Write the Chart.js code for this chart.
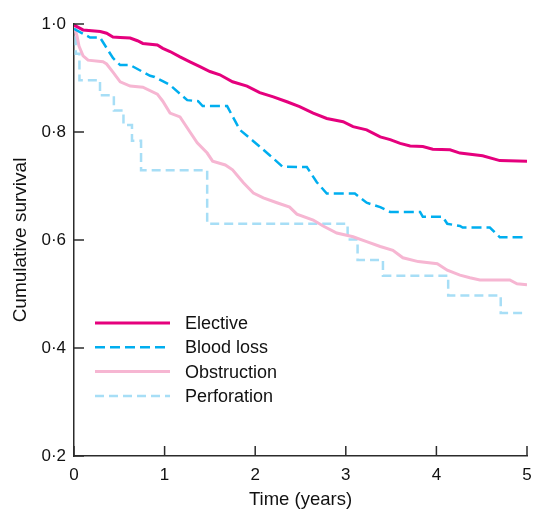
<!DOCTYPE html>
<html>
<head>
<meta charset="utf-8">
<script src="https://cdn.jsdelivr.net/npm/chart.js@4/dist/chart.umd.min.js"></script>
<style>
  html, body { margin: 0; padding: 0; background: #fff; }
  #wrap { width: 536px; height: 511px; }
</style>
</head>
<body>
<div id="wrap"><canvas id="km"></canvas></div>
<script>
// survival curves (time in years, cumulative survival)
const electiveT = [0, 0.10, 0.29, 0.36, 0.43, 0.51, 0.62, 0.70, 0.76, 0.92, 0.98, 1.06, 1.17, 1.28, 1.39, 1.50, 1.61, 1.75, 1.91, 2.05, 2.20, 2.35, 2.49, 2.64, 2.79, 2.97, 3.08, 3.23, 3.38, 3.49, 3.60, 3.71, 3.85, 3.96, 4.15, 4.26, 4.51, 4.70, 5.0];
const electiveS = [0.998, 0.989, 0.986, 0.983, 0.976, 0.975, 0.974, 0.969, 0.964, 0.961, 0.955, 0.949, 0.939, 0.930, 0.921, 0.912, 0.906, 0.893, 0.885, 0.873, 0.865, 0.856, 0.847, 0.835, 0.825, 0.819, 0.810, 0.804, 0.791, 0.786, 0.779, 0.774, 0.773, 0.768, 0.767, 0.761, 0.756, 0.747, 0.746];

const bloodT = [0, 0.177, 0.287, 0.43, 0.51, 0.62, 0.84, 0.89, 1.06, 1.25, 1.37, 1.42, 1.69, 1.83, 1.98, 2.05, 2.16, 2.30, 2.57, 2.68, 2.79, 3.10, 3.23, 3.38, 3.49, 3.82, 3.85, 4.07, 4.12, 4.26, 4.29, 4.59, 4.70, 5.0];
const bloodS = [0.991, 0.975, 0.975, 0.937, 0.924, 0.924, 0.904, 0.902, 0.887, 0.859, 0.857, 0.848, 0.848, 0.804, 0.783, 0.773, 0.757, 0.736, 0.735, 0.707, 0.686, 0.686, 0.669, 0.661, 0.652, 0.652, 0.643, 0.643, 0.630, 0.626, 0.623, 0.623, 0.605, 0.605];

const obstructionT = [0, 0.033, 0.055, 0.10, 0.155, 0.32, 0.36, 0.43, 0.51, 0.62, 0.76, 0.92, 0.98, 1.06, 1.17, 1.28, 1.36, 1.47, 1.53, 1.67, 1.75, 1.87, 1.98, 2.09, 2.24, 2.38, 2.46, 2.64, 2.75, 2.90, 3.08, 3.23, 3.38, 3.52, 3.63, 3.80, 4.01, 4.12, 4.26, 4.37, 4.48, 4.81, 4.89, 5.0];
const obstructionS = [0.998, 0.978, 0.959, 0.941, 0.933, 0.930, 0.926, 0.911, 0.893, 0.885, 0.883, 0.870, 0.857, 0.835, 0.828, 0.800, 0.780, 0.761, 0.746, 0.739, 0.730, 0.706, 0.687, 0.678, 0.669, 0.661, 0.648, 0.637, 0.626, 0.613, 0.606, 0.597, 0.588, 0.581, 0.567, 0.560, 0.556, 0.544, 0.535, 0.530, 0.526, 0.526, 0.519, 0.517];

const perforationT = [0, 0.02, 0.06, 0.287, 0.44, 0.546, 0.64, 0.74, 1.47, 3.02, 3.13, 3.41, 4.13, 4.71, 5.0];
const perforationS = [1.0, 0.945, 0.896, 0.868, 0.840, 0.813, 0.784, 0.729, 0.630, 0.601, 0.563, 0.534, 0.497, 0.465, 0.465];

const seriesNames = ['Elective', 'Blood loss', 'Obstruction', 'Perforation'];
const yTicks = [0.2, 0.4, 0.6, 0.8, 1.0];
const xTicks = [0, 1, 2, 3, 4, 5];

function pts(t, s) {
  return t.map(function (v, i) { return { x: v, y: s[i] }; });
}

const FONT = "'Liberation Sans', Arial, sans-serif";
const AXIS = '#2b2b2b';

// ticks point into the plot, so draw them ourselves from the scales
const innerTicks = {
  id: 'innerTicks',
  afterDraw: function (chart) {
    const c = chart.ctx, a = chart.chartArea;
    const xs = chart.scales.x, ys = chart.scales.y;
    c.save();
    c.strokeStyle = AXIS;
    c.lineWidth = 1.5;
    xTicks.forEach(function (v) {
      const px = xs.getPixelForValue(v);
      c.beginPath(); c.moveTo(px, a.bottom); c.lineTo(px, a.bottom - 10); c.stroke();
    });
    yTicks.forEach(function (v) {
      const py = ys.getPixelForValue(v);
      c.beginPath(); c.moveTo(a.left, py); c.lineTo(a.left + 10, py); c.stroke();
    });
    c.restore();
  }
};

// legend sits inside the plot, lower left
const inLegend = {
  id: 'inLegend',
  afterDraw: function (chart) {
    const c = chart.ctx, a = chart.chartArea;
    const x0 = a.left + 21, x1 = a.left + 96, tx = a.left + 111;
    let y = a.top + 299;
    c.save();
    chart.data.datasets.forEach(function (ds) {
      c.strokeStyle = ds.borderColor;
      c.lineWidth = ds.borderWidth;
      c.setLineDash(ds.borderDash || []);
      c.beginPath(); c.moveTo(x0, y); c.lineTo(x1, y); c.stroke();
      c.fillStyle = '#111';
      c.font = '18px ' + FONT;
      c.textBaseline = 'middle';
      c.fillText(ds.label, tx, y + 1);
      y += 24.3;
    });
    c.restore();
  }
};

new Chart(document.getElementById('km'), {
  type: 'line',
  data: {
    datasets: [
      { label: seriesNames[0], data: pts(electiveT, electiveS), borderColor: '#e5007d', borderWidth: 3 },
      { label: seriesNames[1], data: pts(bloodT, bloodS), borderColor: '#00aeef', borderWidth: 2.5, borderDash: [10, 5] },
      { label: seriesNames[2], data: pts(obstructionT, obstructionS), borderColor: '#f6b6d2', borderWidth: 3 },
      { label: seriesNames[3], data: pts(perforationT, perforationS), borderColor: '#a7def6', borderWidth: 2.5, borderDash: [9, 5], stepped: true }
    ]
  },
  options: {
    responsive: true,
    maintainAspectRatio: false,
    animation: false,
    elements: { point: { radius: 0 }, line: { tension: 0 } },
    layout: { padding: { top: 24, right: 9, left: 0, bottom: 0 } },
    plugins: { legend: { display: false }, tooltip: { enabled: false } },
    scales: {
      x: {
        type: 'linear',
        min: 0, max: 5,
        afterFit: function (s) { s.height = 55; s.paddingLeft = 0; s.paddingRight = 0; },
        afterBuildTicks: function (s) { s.ticks = xTicks.map(function (v) { return { value: v }; }); },
        grid: { display: false, drawTicks: false },
        border: { color: AXIS, width: 1.5 },
        ticks: { color: '#111', font: { family: FONT, size: 17 }, padding: 9, maxRotation: 0 },
        title: { display: true, text: 'Time (years)', color: '#111', font: { family: FONT, size: 18.5 }, padding: { top: 0, bottom: 0 } }
      },
      y: {
        type: 'linear',
        min: 0.2, max: 1.0,
        afterFit: function (s) { s.width = 74; s.paddingTop = 0; s.paddingBottom = 0; },
        afterBuildTicks: function (s) { s.ticks = yTicks.map(function (v) { return { value: v }; }); },
        grid: { display: false, drawTicks: false },
        border: { color: AXIS, width: 1.5 },
        ticks: {
          color: '#111', font: { family: FONT, size: 17 }, padding: 8,
          callback: function (v) { return Number(v).toFixed(1).replace('.', '\u00b7'); }
        },
        title: { display: true, text: 'Cumulative survival', color: '#111', font: { family: FONT, size: 19 }, padding: { top: 9, bottom: 0 } }
      }
    }
  },
  plugins: [innerTicks, inLegend]
});
</script>
</body>
</html>
